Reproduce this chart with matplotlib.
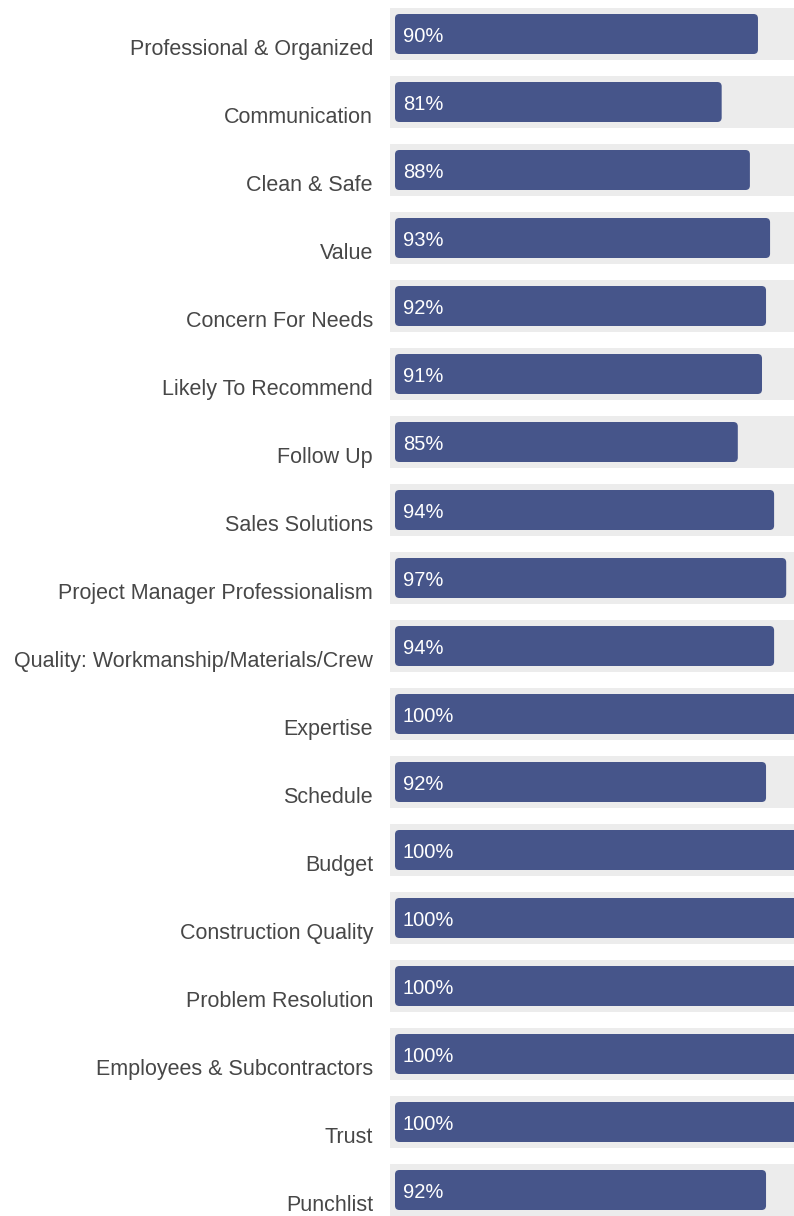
import matplotlib
matplotlib.use("Agg")
import matplotlib.pyplot as plt
from matplotlib.patches import FancyBboxPatch

categories = [
    "Professional & Organized", "Communication", "Clean & Safe", "Value",
    "Concern For Needs", "Likely To Recommend", "Follow Up", "Sales Solutions",
    "Project Manager Professionalism", "Quality: Workmanship/Materials/Crew",
    "Expertise", "Schedule", "Budget", "Construction Quality",
    "Problem Resolution", "Employees & Subcontractors", "Trust", "Punchlist",
]
scores = [90, 81, 88, 93, 92, 91, 85, 94, 97, 94, 100, 92, 100, 100, 100, 100, 100, 92]
score_labels = [f"{v}%" for v in scores]

bar_color = "#46558a"
track_color = "#ececec"
text_color = "#474747"

W, H = 794, 1216
fig = plt.figure(figsize=(W / 100, H / 100), dpi=100)

# axes from x=390px to the right edge; ~4.03 px per percent, 0% at 395px
# (100% bars run a little past the edge, as in the original)
px = 4.033
ax = fig.add_axes([390 / W, 0, 404 / W, 1])
ax.set_xlim(-5 / px, 399 / px)
# rows every 68 px, first track centred at 34 px
ax.set_ylim((H - 34) / 68, -0.5)
ax.axis("off")

track_h = 52 / 68
bar_h = 40 / 68
ys = list(range(len(categories)))

ax.barh(ys, 120, left=-5 / px, height=track_h, color=track_color, linewidth=0)

for y, v, lab, name in zip(ys, scores, score_labels, categories):
    box = FancyBboxPatch((0, y - bar_h / 2), v, bar_h,
                         boxstyle="round,pad=0,rounding_size=1.1",
                         mutation_aspect=px / 68,
                         facecolor=bar_color, edgecolor="none")
    ax.add_patch(box)
    ax.text(8 / px, y + 0.118, lab, color="white", fontsize=14.5,
            family="Liberation Sans", ha="left", va="baseline")
    ax.text(-22 / px, y + 0.31, name, color=text_color, fontsize=15.5,
            family="Liberation Sans", ha="right", va="baseline", clip_on=False)

fig.savefig("out.png", dpi=100)
